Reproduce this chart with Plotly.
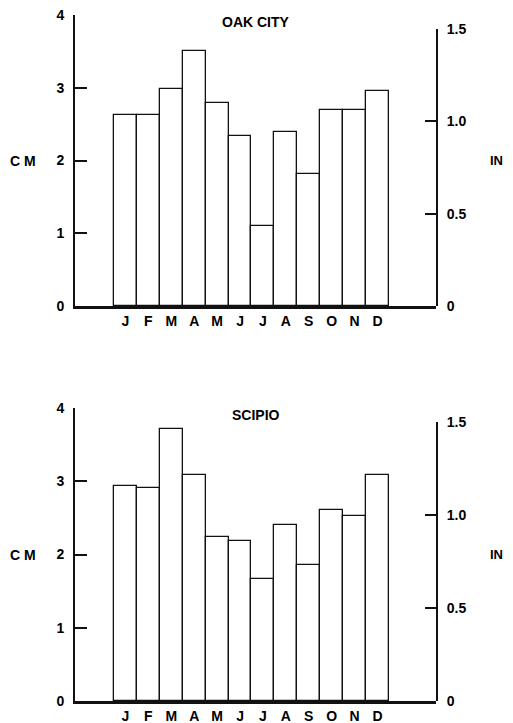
import plotly.graph_objects as go

MONTHS = ["J", "F", "M", "A", "M", "J", "J", "A", "S", "O", "N", "D"]
OAK_CITY_CM = [2.63, 2.63, 2.98, 3.50, 2.79, 2.33, 1.10, 2.39, 1.81, 2.70, 2.70, 2.96]
SCIPIO_CM = [2.94, 2.91, 3.71, 3.09, 2.24, 2.18, 1.67, 2.40, 1.86, 2.61, 2.53, 3.09]
STATIONS = ["OAK CITY", "SCIPIO"]
CM_TICKS = [0, 1, 2, 3, 4]
IN_TICKS = [0, 0.5, 1.0, 1.5]
IN_TICK_TEXT = ["0", "0.5", "1.0", "1.5"]
CM_PER_IN = 2.54

# the page body adds an 8px margin; target page coordinates are shifted by it
OFF = 8
W, H = 513 - OFF, 723 - OFF
ML = 75 - OFF
MR = W - (436 - OFF)
MT = 15 - OFF
MB = H - (701 - OFF)
plot_h = H - MT - MB
plot_w = W - ML - MR
# page pixel rows of each panel (top = 4 cm, bottom = 0)
panels_px = [(15, 306), (408, 701)]
FONT = "Liberation Sans, Arial, sans-serif"

fig = go.Figure()
x_idx = list(range(len(MONTHS)))

layout = dict(
    width=W, height=H,
    margin=dict(l=ML, r=MR, t=MT, b=MB, autoexpand=False),
    paper_bgcolor="white", plot_bgcolor="rgba(0,0,0,0)",
    showlegend=False, bargap=0,
    font=dict(family=FONT, color="black"),
)
annotations = []
for i, (name, vals) in enumerate(zip(STATIONS, [OAK_CITY_CM, SCIPIO_CM])):
    top_px, bot_px = panels_px[i]
    d0 = (H - MB - (bot_px - OFF)) / plot_h
    d1 = (H - MB - (top_px - OFF)) / plot_h
    in_top = d0 + (d1 - d0) * (1.5 * CM_PER_IN / 4.0)
    xa = "x" if i == 0 else "x2"
    ya_cm = "y" if i == 0 else "y3"
    ya_in = "y2" if i == 0 else "y4"
    xk = "xaxis" if i == 0 else "xaxis2"
    ykc = "yaxis" if i == 0 else "yaxis3"
    yki = "yaxis2" if i == 0 else "yaxis4"

    fig.add_trace(go.Bar(
        x=x_idx, y=vals, xaxis=xa, yaxis=ya_cm, width=1,
        marker=dict(color="white", line=dict(color="#111", width=1.3)),
        hoverinfo="skip",
    ))
    fig.add_trace(go.Scatter(x=[], y=[], xaxis=xa, yaxis=ya_in, hoverinfo="skip"))

    layout[xk] = dict(
        domain=[0, 1], anchor=ya_cm, range=[-2.2, 13.55], automargin=False,
        showline=True, linewidth=2.5, linecolor="#111", showgrid=False,
        zeroline=False, ticks="", tickvals=x_idx, ticktext=MONTHS,
        ticklabeloverflow="allow",
        tickfont=dict(size=14, weight="bold", family=FONT), fixedrange=True,
    )
    layout[ykc] = dict(
        domain=[d0, d1], anchor=xa, range=[0, 4], side="left", automargin=False,
        showline=True, linewidth=2, linecolor="#111", showgrid=False,
        zeroline=False, ticks="inside", ticklen=12, tickwidth=1.5,
        tickcolor="#111", tickvals=CM_TICKS, ticklabelstandoff=6,
        ticklabeloverflow="allow",
        tickfont=dict(size=14, weight="bold", family=FONT), fixedrange=True,
    )
    layout[yki] = dict(
        domain=[d0, in_top], anchor=xa, range=[0, 1.5], side="right",
        automargin=False,
        showline=True, linewidth=2, linecolor="#111", showgrid=False,
        zeroline=False, ticks="inside", ticklen=11, tickwidth=1.5,
        tickcolor="#111", tickvals=IN_TICKS, ticktext=IN_TICK_TEXT,
        ticklabelstandoff=6, ticklabeloverflow="allow",
        tickfont=dict(size=14, weight="bold", family=FONT), fixedrange=True,
    )
    mid = (d0 + d1) / 2
    annotations.append(dict(
        text=name, xref="paper", yref="paper",
        x=0.5, y=d1 - 7 / plot_h, showarrow=False, yanchor="middle",
        xanchor="center",
        font=dict(size=14, weight="bold", family=FONT),
    ))
    annotations.append(dict(
        text="C M", xref="paper", yref="paper", x=(23 - OFF - ML) / plot_w, y=mid,
        xanchor="center", yanchor="middle", showarrow=False,
        font=dict(size=14, weight="bold", family=FONT),
    ))
    annotations.append(dict(
        text="IN", xref="paper", yref="paper", x=(496 - OFF - ML) / plot_w, y=mid,
        xanchor="center", yanchor="middle", showarrow=False,
        font=dict(size=13, weight="bold", family=FONT),
    ))

layout["annotations"] = annotations
fig.update_layout(**layout)
fig.write_html("out.html")
